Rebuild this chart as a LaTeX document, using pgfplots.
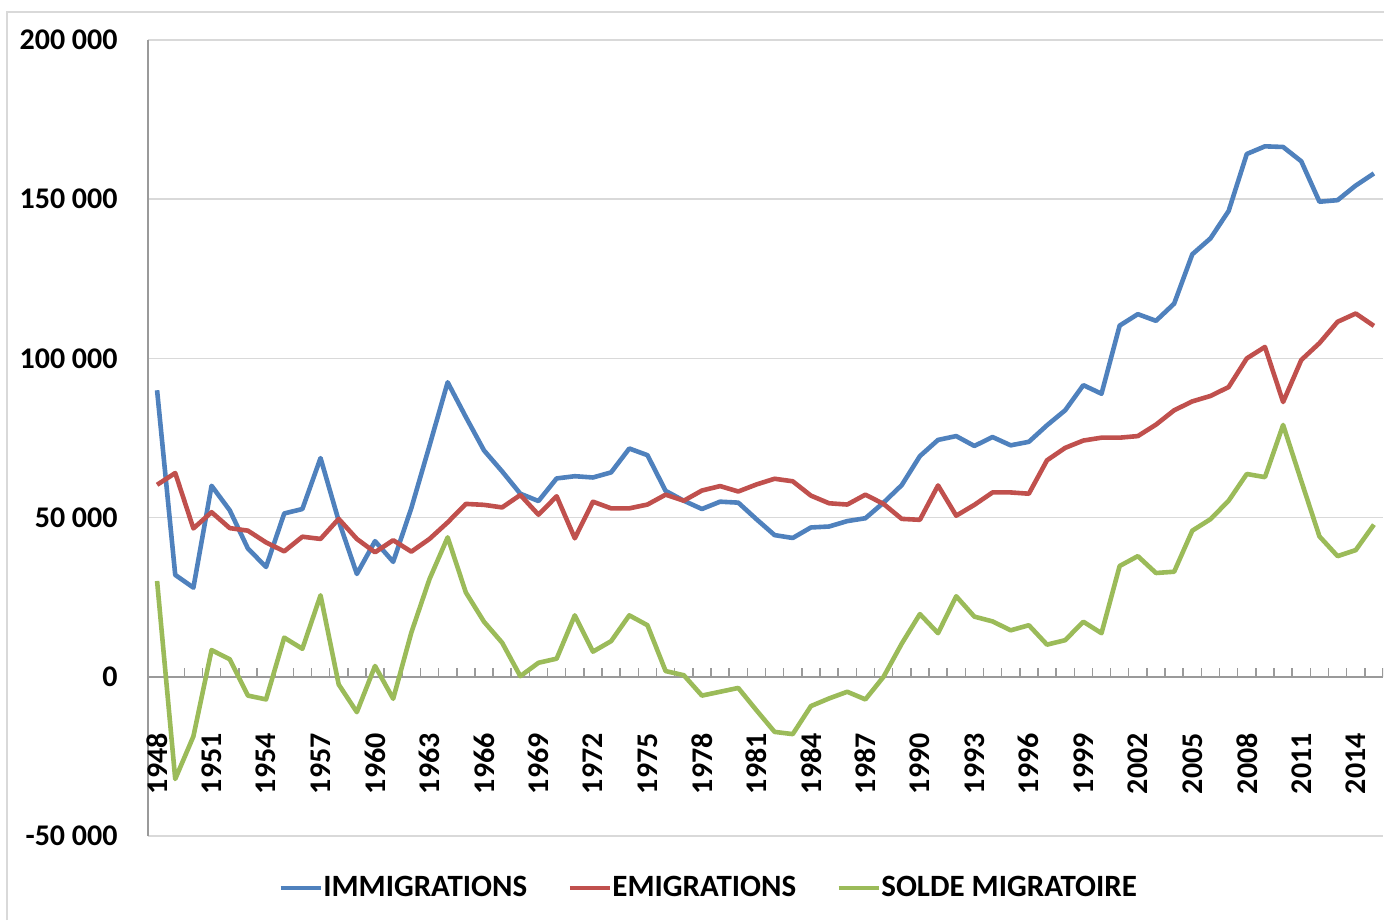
\documentclass[border=0pt]{standalone}
\usepackage{fontspec}
\setmainfont{Carlito}
\usepackage{pgfplots}
\pgfplotsset{compat=1.18}
\usepackage{pgfplotstable}
\definecolor{cimm}{HTML}{4F81BD}
\definecolor{cemi}{HTML}{C0504D}
\definecolor{csol}{HTML}{9BBB59}
\definecolor{gridc}{HTML}{D9D9D9}
\definecolor{axisc}{HTML}{9A9A9A}
\pgfplotstableread{
year imm emi sol
1948 90000 60300 30100
1949 32000 64000 -32100
1950 28000 46600 -18700
1951 60000 51700 8400
1952 52300 46700 5500
1953 40300 45900 -5900
1954 34500 42200 -7100
1955 51300 39400 12300
1956 52700 44000 8800
1957 68700 43300 25600
1958 49000 49600 -2400
1959 32300 43300 -11100
1960 42600 39100 3400
1961 36100 42900 -6900
1962 53000 39300 13900
1963 72600 43300 30700
1964 92500 48500 43800
1965 81600 54300 26500
1966 71100 54000 17300
1967 64500 53200 10700
1968 57500 57100 200
1969 55200 50900 4400
1970 62300 56700 5700
1971 63000 43500 19300
1972 62600 55000 7900
1973 64200 52900 11200
1974 71700 52900 19300
1975 69600 54100 16200
1976 58400 57200 1800
1977 55300 55300 500
1978 52700 58500 -5900
1979 55000 59900 -4700
1980 54700 58200 -3500
1981 49500 60400 -10500
1982 44500 62200 -17300
1983 43600 61400 -18000
1984 46900 56900 -9200
1985 47200 54500 -6800
1986 48900 54100 -4700
1987 49800 57200 -7100
1988 54700 54300 0
1989 60200 49600 10400
1990 69300 49300 19700
1991 74400 60100 13700
1992 75600 50600 25300
1993 72500 54000 18900
1994 75300 57900 17400
1995 72700 57900 14600
1996 73800 57500 16200
1997 79000 68000 10100
1998 83700 71900 11500
1999 91600 74200 17300
2000 88900 75100 13700
2001 110300 75100 34800
2002 113900 75600 37900
2003 111800 79200 32600
2004 117200 83700 33000
2005 132700 86500 45900
2006 137700 88200 49500
2007 146300 91000 55300
2008 164200 100000 63700
2009 166600 103600 62700
2010 166400 86300 79100
2011 161900 99500 61500
2012 149200 104800 44100
2013 149700 111500 37900
2014 154300 114100 39800
2015 158100 110200 47800
}\data
\begin{document}
\begin{tikzpicture}[x=1pt,y=1pt]
\useasboundingbox (-74,-42) rectangle (618,418);
\draw[gridc, line width=0.75pt] (-70.5,-42) -- (-70.5,412) -- (618,412);
\begin{axis}[
  at={(0,0)}, anchor=south west,
  scale only axis, width=617.5pt, height=398pt,
  xmin=1947.5, xmax=2015.5, ymin=-50000, ymax=200000,
  axis x line=middle, axis y line=left,
  axis line style={-, draw=axisc, line width=0.75pt},
  hide obscured y ticks=false,
  scaled y ticks=false, scaled x ticks=false,
  ytick={-50000,0,50000,100000,150000,200000},
  yticklabels={-50 000,0,50 000,100 000,150 000,200 000},
  xtick={1948,1951,...,2014},
  xticklabels={1948,1951,1954,1957,1960,1963,1966,1969,1972,1975,1978,1981,1984,1987,1990,1993,1996,1999,2002,2005,2008,2011,2014},
  major tick length=0pt,
  ymajorgrids, grid style={draw=gridc, line width=0.75pt},
  tick label style={font=\fontsize{15}{18}\selectfont\bfseries, inner sep=0pt},
  xticklabel style={rotate=90, anchor=east},
  yticklabel style={anchor=east},
  xticklabel shift=28pt,
  yticklabel shift=15pt,
  legend columns=3,
  legend style={at={(0.4534,-0.0653)}, anchor=center, draw=none, fill=none,
    font=\fontsize{15.5}{18}\selectfont\bfseries,
    /tikz/every even column/.append style={column sep=20pt},
    nodes={inner sep=0.2pt}},
  legend image code/.code={\draw[#1, line width=2.2pt] (0pt,0pt) -- (20pt,0pt);},
]
\pgfplotsinvokeforeach{1947,...,2015}{\draw[axisc, line width=0.75pt] (axis cs:#1.5,0) -- ++(0pt,4.5pt);}
\addplot[cimm, line width=2.3pt, line join=round] table[x=year,y=imm]{\data};
\addlegendentry{IMMIGRATIONS}
\addplot[cemi, line width=2.3pt, line join=round] table[x=year,y=emi]{\data};
\addlegendentry{EMIGRATIONS}
\addplot[csol, line width=2.3pt, line join=round] table[x=year,y=sol]{\data};
\addlegendentry{SOLDE MIGRATOIRE}
\end{axis}
\end{tikzpicture}
\end{document}
